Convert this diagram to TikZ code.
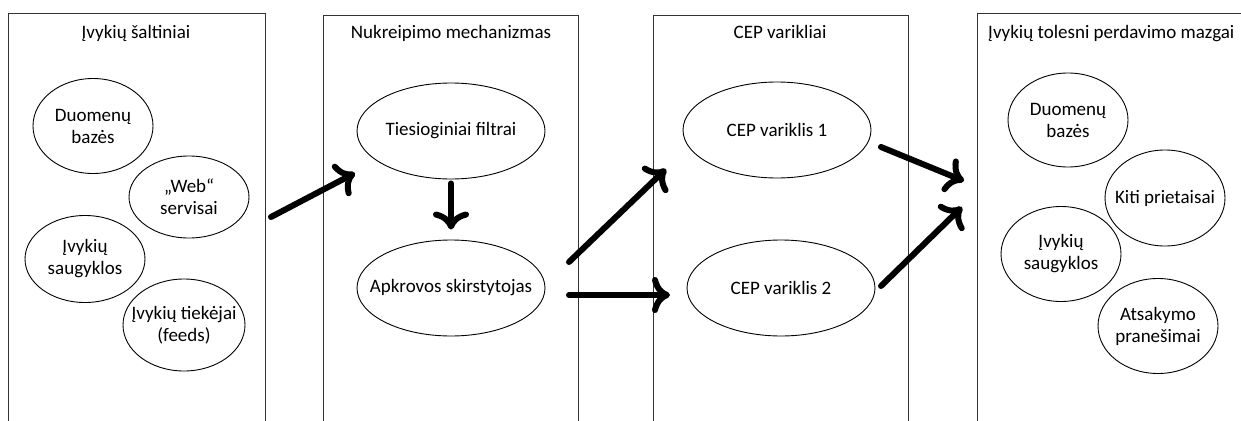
\documentclass[tikz,border=0pt]{standalone}
\usepackage{fontspec}
\setmainfont{Carlito}
\usetikzlibrary{arrows.meta,shapes.geometric}
\begin{document}
\begin{tikzpicture}[x=1pt,y=-1pt,
  lane/.style={draw=black!80,line width=0.9pt},
  lanetitle/.style={font=\fontsize{19}{22}\selectfont,inner sep=0pt,anchor=base},
  ovaltext/.style={inner sep=0pt,align=center,font=\fontsize{19}{22}\selectfont},
  oval/.style={draw,ellipse,line width=0.9pt,inner sep=0pt},
  txt/.style={label={[ovaltext]center:{#1}}},
  smalloval/.style={oval,minimum width=120pt,minimum height=92pt},
  wideoval/.style={oval,minimum width=188pt,minimum height=96pt},
  flow/.style={line width=6pt,line cap=round,
    -{Computer Modern Rightarrow[length=18pt,width=36pt,line cap=round]}},
]
\useasboundingbox (0,0) rectangle (1241,420);
\clip (0,0) rectangle (1241,420);
\fill[white] (0,0) rectangle (1241,420);

% the four lanes
\draw[lane] (8,13) rectangle (265,440);
\draw[lane] (323,15) rectangle (578,440);
\draw[lane] (653,15) rectangle (908,440);
\draw[lane] (977,13) rectangle (1260,440);

\node[lanetitle] (t1) at (136,38) {Įvykių šaltiniai};
\node[lanetitle] (t2) at (451,39) {Nukreipimo mechanizmas};
\node[lanetitle] (t3) at (780,39) {CEP varikliai};
\node[lanetitle,anchor=base west] (t4) at (988,38) {Įvykių tolesni perdavimo mazgai};

% event sources
\node[smalloval,minimum height=95pt,txt={Duomenų\\bazės}] (s1) at (93,126) {};
\node[smalloval,minimum height=82pt,txt={„Web“\\servisai}] (s2) at (189,197) {};
\node[smalloval,minimum height=87pt,txt={Įvykių\\saugyklos}] (s3) at (85,259) {};
\node[smalloval,minimum width=122pt,txt={Įvykių tiekėjai\\(feeds)}] (s4) at (184,325) {};

% routing
\node[wideoval,txt={Tiesioginiai filtrai}] (filt) at (451,131) {};
\node[wideoval,txt={Apkrovos skirstytojas}] (load) at (451,288) {};

% CEP engines
\node[wideoval,txt={CEP variklis 1}] (e1) at (777,130) {};
\node[wideoval,txt={CEP variklis 2}] (e2) at (781,288) {};

% downstream sinks
\node[smalloval,minimum height=94pt,txt={Duomenų\\bazės}] (d1) at (1068,120) {};
\node[smalloval,minimum height=96pt,txt={Kiti prietaisai}] (d2) at (1165,198) {};
\node[smalloval,minimum height=95pt,txt={Įvykių\\saugyklos}] (d3) at (1061,254) {};
\node[smalloval,minimum height=95pt,txt={Atsakymo\\pranešimai}] (d4) at (1158,326) {};

% arrow end points
\coordinate (inA) at (271,217);
\coordinate (inB) at (355,173);
\coordinate (l1a) at (569,262);
\coordinate (l1b) at (666,169);
\coordinate (l2a) at (569,295);
\coordinate (l2b) at (670,295);
\coordinate (o1a) at (881,147);
\coordinate (o1b) at (964,181);
\coordinate (o2a) at (881,286);
\coordinate (o2b) at (962,207);

\draw[flow] (inA) -- (inB);
\draw[flow] ([yshift=-4pt]filt.south) -- ([yshift=10pt]load.north);
\draw[flow] (l1a) -- (l1b);
\draw[flow] (l2a) -- (l2b);
\draw[flow] (o1a) -- (o1b);
\draw[flow] (o2a) -- (o2b);
\end{tikzpicture}
\end{document}
